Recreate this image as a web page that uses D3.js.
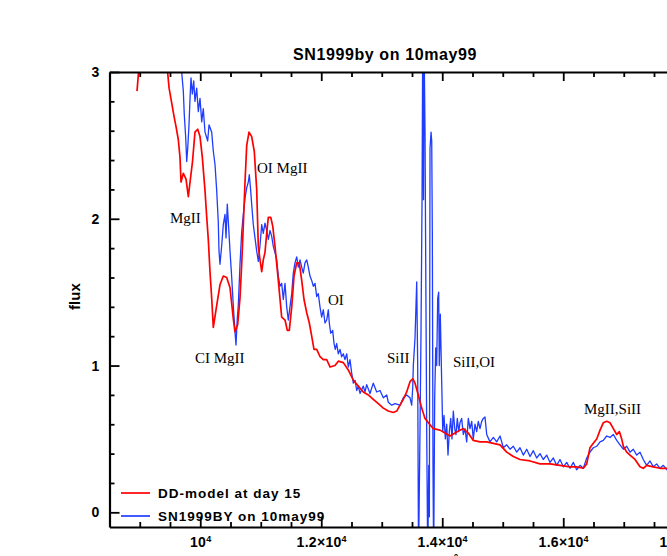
<!DOCTYPE html>
<html>
<head>
<meta charset="utf-8">
<script src="https://cdn.jsdelivr.net/npm/d3@7"></script>
<style>
  body { margin: 0; background: #fff; }
  svg { display: block; }
  .tick text { font-family: "Liberation Sans", Arial, sans-serif; font-weight: bold; font-size: 14px; fill: #000; letter-spacing: 0.3px; }
</style>
</head>
<body>
<div id="plotDiv"></div>
<script>
// model spectrum [wavelength (A), flux]
var modelSpectrum = [
  [8955,2.87],[8980,3.0],[9020,3.15],[9170,3.3],[9335,3.22],[9460,3.0],[9485,2.89],[9528,2.79],[9566,2.70],[9599,2.63],
  [9637,2.54],[9665,2.42],[9682,2.25],[9720,2.31],[9765,2.27],[9803,2.15],[9831,2.25],[9872,2.39],[9913,2.59],[9958,2.61],
  [9996,2.56],[10034,2.42],[10079,2.19],[10107,2.01],[10133,1.86],[10161,1.64],[10189,1.46],[10216,1.26],[10272,1.41],[10326,1.55],
  [10381,1.61],[10437,1.60],[10492,1.53],[10546,1.32],[10574,1.23],[10619,1.28],[10657,1.46],[10685,1.69],[10712,1.96],[10740,2.25],
  [10768,2.50],[10806,2.59],[10850,2.56],[10893,2.46],[10933,2.20],[10960,1.81],[10988,1.72],[11016,1.64],[11042,1.72],[11070,1.77],
  [11098,1.90],[11125,2.01],[11165,2.01],[11198,1.95],[11236,1.81],[11290,1.58],[11346,1.33],[11401,1.31],[11439,1.24],[11472,1.24],
  [11512,1.40],[11550,1.61],[11594,1.70],[11637,1.70],[11677,1.58],[11715,1.45],[11760,1.36],[11803,1.29],[11842,1.20],[11880,1.11],
  [11925,1.11],[11980,1.06],[12034,1.04],[12090,1.04],[12145,0.99],[12227,1.00],[12282,1.03],[12365,1.02],[12447,0.97],[12530,0.90],
  [12613,0.86],[12695,0.82],[12778,0.80],[12860,0.77],[12943,0.74],[13026,0.71],[13108,0.69],[13191,0.68],[13247,0.69],[13302,0.73],
  [13356,0.77],[13412,0.82],[13467,0.89],[13512,0.91],[13550,0.88],[13604,0.80],[13660,0.71],[13715,0.64],[13770,0.61],[13852,0.57],
  [13963,0.56],[14046,0.54],[14128,0.52],[14211,0.54],[14293,0.56],[14348,0.57],[14431,0.54],[14513,0.49],[14624,0.48],[14735,0.48],
  [14844,0.47],[14955,0.46],[15065,0.41],[15175,0.38],[15285,0.36],[15451,0.35],[15616,0.33],[15781,0.33],[15946,0.32],[16112,0.31],
  [16222,0.31],[16332,0.30],[16388,0.33],[16442,0.44],[16497,0.47],[16553,0.50],[16608,0.56],[16662,0.61],[16718,0.62],[16773,0.61],
  [16828,0.57],[16884,0.53],[16927,0.55],[16966,0.50],[16993,0.45],[17049,0.41],[17103,0.39],[17186,0.36],[17269,0.31],[17323,0.30],
  [17379,0.32],[17489,0.31],[17599,0.30],[17715,0.30],[17930,0.30]
];

// observed spectrum [wavelength (A), flux]
var obsSpectrum = [
  [9665,3.22],[9693,3.0],[9720,2.87],[9736,2.71],[9760,2.55],[9776,2.39],[9793,2.48],[9814,2.64],[9831,2.82],[9847,2.96],
  [9869,2.85],[9892,2.94],[9913,2.80],[9941,2.89],[9968,2.73],[9996,2.82],[10024,2.66],[10050,2.75],[10079,2.59],[10123,2.53],
  [10145,2.64],[10189,2.59],[10216,2.46],[10244,2.37],[10272,2.19],[10298,1.98],[10310,1.78],[10326,1.69],[10355,1.82],[10381,1.96],
  [10409,2.03],[10426,1.87],[10447,2.10],[10464,1.98],[10492,1.78],[10520,1.60],[10546,1.41],[10574,1.23],[10591,1.14],[10612,1.32],
  [10629,1.41],[10657,1.69],[10685,1.91],[10712,2.03],[10740,2.14],[10768,2.21],[10794,2.25],[10811,2.30],[10834,2.19],[10850,2.10],
  [10877,1.96],[10905,1.87],[10933,1.78],[10960,1.71],[10988,1.82],[11016,1.96],[11042,1.90],[11070,1.97],[11098,1.92],[11125,1.86],
  [11153,1.92],[11181,1.88],[11208,1.81],[11236,1.77],[11264,1.72],[11290,1.61],[11318,1.54],[11346,1.56],[11373,1.45],[11401,1.56],
  [11429,1.40],[11455,1.31],[11483,1.40],[11512,1.49],[11538,1.63],[11566,1.70],[11594,1.74],[11621,1.67],[11649,1.72],[11677,1.67],
  [11703,1.63],[11731,1.70],[11760,1.72],[11786,1.67],[11814,1.61],[11842,1.58],[11869,1.54],[11897,1.56],[11925,1.47],[11951,1.49],
  [11979,1.40],[12007,1.33],[12034,1.38],[12062,1.29],[12090,1.31],[12117,1.38],[12133,1.29],[12156,1.22],[12189,1.24],[12211,1.15],
  [12232,1.11],[12255,1.15],[12282,1.08],[12310,1.11],[12337,1.06],[12365,1.08],[12392,1.04],[12421,1.08],[12447,0.99],[12475,1.04],
  [12503,0.95],[12530,0.88],[12558,0.90],[12586,0.83],[12613,0.86],[12641,0.81],[12695,0.86],[12723,0.82],[12751,0.87],[12806,0.81],
  [12860,0.88],[12917,0.82],[12971,0.83],[13026,0.78],[13082,0.80],[13108,0.75],[13165,0.73],[13219,0.74],[13302,0.73],[13356,0.78],
  [13412,0.80],[13467,0.78],[13495,0.73],[13512,0.85],[13522,1.00],[13550,1.19],[13578,1.57],[13594,1.00],[13608,-0.33],[13632,0.55],
  [13649,1.23],[13666,2.14],[13677,3.22],[13690,2.13],[13699,3.22],[13715,2.61],[13727,1.69],[13743,0.55],[13760,-0.33],[13777,0.32],
  [13787,-0.03],[13798,2.48],[13815,2.59],[13826,2.53],[13836,1.91],[13847,0.32],[13858,-0.33],[13875,0.78],[13892,1.12],[13908,1.00],
  [13925,1.46],[13941,1.50],[13951,1.00],[13968,1.35],[13985,1.00],[14008,0.55],[14029,0.66],[14051,0.50],[14074,0.60],[14095,0.39],
  [14117,0.55],[14140,0.64],[14161,0.50],[14183,0.69],[14206,0.57],[14227,0.53],[14249,0.64],[14272,0.55],[14293,0.61],[14321,0.64],
  [14348,0.53],[14376,0.57],[14404,0.48],[14431,0.64],[14459,0.57],[14487,0.62],[14513,0.50],[14541,0.60],[14569,0.55],[14596,0.62],
  [14624,0.57],[14652,0.62],[14678,0.64],[14706,0.65],[14735,0.53],[14789,0.48],[14844,0.51],[14900,0.48],[14955,0.52],[14983,0.48],
  [15009,0.44],[15065,0.46],[15120,0.43],[15175,0.45],[15231,0.41],[15285,0.44],[15340,0.39],[15396,0.43],[15451,0.38],[15505,0.42],
  [15561,0.37],[15616,0.40],[15670,0.36],[15726,0.39],[15781,0.34],[15836,0.37],[15892,0.32],[15946,0.36],[16001,0.31],[16057,0.34],
  [16112,0.30],[16167,0.34],[16222,0.29],[16278,0.32],[16332,0.30],[16388,0.37],[16442,0.41],[16497,0.44],[16553,0.45],[16608,0.48],
  [16662,0.49],[16718,0.52],[16773,0.51],[16828,0.53],[16884,0.49],[16938,0.46],[16993,0.43],[17049,0.45],[17103,0.41],[17158,0.43],
  [17214,0.39],[17269,0.41],[17323,0.36],[17379,0.32],[17434,0.35],[17489,0.31],[17544,0.33],[17599,0.30],[17654,0.32],[17715,0.29],
  [17930,0.30]
];

var seriesNames = ["DD-model at day 15", "SN1999BY on 10may99"];
var seriesColors = ["#ff0000", "#1f3cff"];

var xMajorTicks = [10000, 12000, 14000, 16000, 18000];
var xMajorLabels = [["10", "4"], ["1.2\u00d710", "4"], ["1.4\u00d710", "4"], ["1.6\u00d710", "4"], ["1.8\u00d710", "4"]];
var xMinorTicks = [9000, 9500, 10500, 11000, 11500, 12500, 13000, 13500, 14500, 15000, 15500, 16500, 17000, 17500, 18500];
var yMajorTicks = [0, 1, 2, 3];
var yMinorTicks = [0.2, 0.4, 0.6, 0.8, 1.2, 1.4, 1.6, 1.8, 2.2, 2.4, 2.6, 2.8];

var lineLabels = ["MgII", "OI MgII", "CI MgII", "OI", "SiII", "SiII,OI", "MgII,SiII"];
var lineLabelWave = [9500, 10938, 9913, 12112, 13087, 14178, 16343];
var lineLabelFlux = [1.97, 2.31, 1.02, 1.41, 1.02, 0.99, 0.67];

function drawChart() {
    var left = 109.5, top = 72, bottom = 527;

    var svg = d3.select("#plotDiv").append("svg")
        .attr("width", 667)
        .attr("height", 556);

    var xScale = d3.scaleLinear().domain([8500, 19000]).range([left, left + 10500 * 0.0605]);
    var yScale = d3.scaleLinear().domain([-0.1, 3]).range([bottom, top]);

    svg.append("clipPath").attr("id", "plotClip")
        .append("rect").attr("x", left).attr("y", top).attr("width", 700).attr("height", bottom - top);

    var line = d3.line()
        .x(function (d) { return xScale(d[0]); })
        .y(function (d) { return yScale(d[1]); });

    var plot = svg.append("g").attr("clip-path", "url(#plotClip)");
    plot.append("path").datum(obsSpectrum).attr("d", line)
        .attr("fill", "none").attr("stroke", seriesColors[1]).attr("stroke-width", 1.3).attr("stroke-linejoin", "round");
    plot.append("path").datum(modelSpectrum).attr("d", line)
        .attr("fill", "none").attr("stroke", seriesColors[0]).attr("stroke-width", 1.7).attr("stroke-linejoin", "round");

    // axes, ticks pointing inwards
    var xBottom = svg.append("g").attr("transform", "translate(0," + bottom + ")")
        .call(d3.axisBottom(xScale).tickValues(xMajorTicks).tickSize(-9).tickSizeOuter(0).tickPadding(10));
    xBottom.selectAll(".tick text").each(function (d, i) {
        var t = d3.select(this).text("");
        t.append("tspan").text(xMajorLabels[i][0]);
        t.append("tspan").attr("dy", "-0.55em").attr("font-size", "9px").text(xMajorLabels[i][1]);
    });
    svg.append("g").attr("transform", "translate(0," + bottom + ")")
        .call(d3.axisBottom(xScale).tickValues(xMinorTicks).tickSize(-5).tickFormat(""))
        .select(".domain").remove();

    svg.append("g").attr("transform", "translate(0," + top + ")")
        .call(d3.axisTop(xScale).tickValues(xMajorTicks).tickSize(-9).tickSizeOuter(0).tickFormat(""));
    svg.append("g").attr("transform", "translate(0," + top + ")")
        .call(d3.axisTop(xScale).tickValues(xMinorTicks).tickSize(-5).tickFormat(""))
        .select(".domain").remove();

    svg.append("g").attr("transform", "translate(" + left + ",0)")
        .call(d3.axisLeft(yScale).tickValues(yMajorTicks).tickSize(-10).tickSizeOuter(0).tickPadding(10).tickFormat(d3.format("d")));
    svg.append("g").attr("transform", "translate(" + left + ",0)")
        .call(d3.axisLeft(yScale).tickValues(yMinorTicks).tickSize(-5).tickFormat(""))
        .select(".domain").remove();

    svg.selectAll(".domain").attr("stroke-width", 2.2);
    svg.selectAll(".tick line").attr("stroke-width", 1.8);

    svg.append("text")
        .attr("x", 385).attr("y", 60)
        .attr("text-anchor", "middle")
        .attr("font-family", "Liberation Sans, Arial, sans-serif")
        .attr("font-weight", "bold").attr("font-size", "16px").attr("letter-spacing", "0.6px")
        .text("SN1999by on 10may99");

    svg.append("text")
        .attr("transform", "translate(80," + yScale(1.47) + ") rotate(-90)")
        .attr("text-anchor", "middle")
        .attr("font-family", "Liberation Sans, Arial, sans-serif")
        .attr("font-weight", "bold").attr("font-size", "15px")
        .text("flux");

    svg.append("text")
        .attr("x", 456).attr("y", 567)
        .attr("text-anchor", "middle")
        .attr("font-family", "Liberation Sans, Arial, sans-serif")
        .attr("font-weight", "bold").attr("font-size", "14px")
        .text("[\u00c5]");

    // line identifications
    svg.selectAll(".ident").data(lineLabels).enter().append("text")
        .attr("class", "ident")
        .attr("x", function (d, i) { return xScale(lineLabelWave[i]); })
        .attr("y", function (d, i) { return yScale(lineLabelFlux[i]); })
        .attr("font-family", "Liberation Serif, Times New Roman, serif")
        .attr("font-size", "15px")
        .text(function (d) { return d; });

    // legend
    var legend = svg.selectAll(".legend").data(seriesNames).enter().append("g")
        .attr("class", "legend")
        .attr("transform", function (d, i) { return "translate(121," + (493 + i * 23) + ")"; });
    legend.append("line").attr("x1", 0).attr("x2", 29).attr("y1", 0).attr("y2", 0)
        .attr("stroke", function (d, i) { return seriesColors[i]; }).attr("stroke-width", 1.7);
    legend.append("text").attr("x", 37).attr("y", 0).attr("dy", "0.35em")
        .attr("font-family", "Liberation Sans, Arial, sans-serif")
        .attr("font-weight", "bold").attr("font-size", "13.5px").attr("letter-spacing", "1px")
        .text(function (d) { return d; });
}

drawChart();
</script>
</body>
</html>
